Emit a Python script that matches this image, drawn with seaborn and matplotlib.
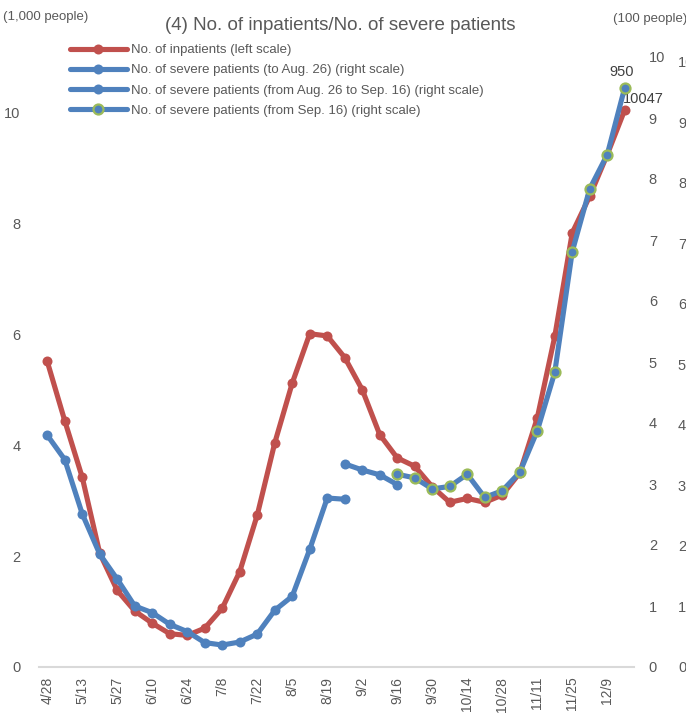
import matplotlib
matplotlib.use("Agg")
import matplotlib.pyplot as plt
import seaborn as sns
import pandas as pd
import numpy as np
from matplotlib.lines import Line2D

dates = ["4/28", "5/6", "5/13", "5/20", "5/27", "6/3", "6/10", "6/17", "6/24", "7/1",
         "7/8", "7/15", "7/22", "7/29", "8/5", "8/12", "8/19", "8/26", "9/2", "9/9",
         "9/16", "9/23", "9/30", "10/7", "10/14", "10/21", "10/28", "11/4", "11/11",
         "11/18", "11/25", "12/2", "12/9", "12/16"]

inpatients = [5.51, 4.44, 3.42, 2.05, 1.38, 1.01, 0.79, 0.60, 0.57, 0.70,
              1.06, 1.72, 2.74, 4.04, 5.12, 6.01, 5.97, 5.58, 5.00, 4.19,
              3.77, 3.62, 3.25, 2.97, 3.04, 2.97, 3.10, 3.50, 4.49, 5.96,
              7.83, 8.49, 9.24, 10.047]

severe_to_aug26 = [3.80, 3.40, 2.51, 1.85, 1.44, 1.00, 0.89, 0.70, 0.58, 0.40,
                   0.36, 0.41, 0.54, 0.93, 1.16, 1.93, 2.77, 2.75]
severe_aug26_sep16 = [3.33, 3.23, 3.15, 2.99]
severe_from_sep16 = [3.16, 3.10, 2.92, 2.96, 3.16, 2.78, 2.89, 3.19, 3.87, 4.83,
                     6.81, 7.84, 8.40, 9.50]

labels = ["No. of inpatients (left scale)",
          "No. of severe patients (to Aug. 26) (right scale)",
          "No. of severe patients (from Aug. 26 to Sep. 16) (right scale)",
          "No. of severe patients (from Sep. 16) (right scale)"]

RED = "#C0504D"
BLUE = "#4F81BD"
GREEN = "#9BBB59"
GREY = "#595959"

sns.set_theme(style="white")
plt.rcParams["font.family"] = ["Liberation Sans", "DejaVu Sans"]
NARROW = ["Liberation Sans Narrow", "Liberation Sans", "DejaVu Sans"]

fig = plt.figure(figsize=(6.86, 7.14), dpi=100)
W, H = 686, 714
ax = fig.add_axes([38.5 / W, (H - 667) / H, 595 / W, 610 / H])
ax2 = ax.twinx()
ax3 = ax.twinx()

n = len(dates)
idx = np.arange(n)
df_red = pd.DataFrame({"x": idx, "y": inpatients})
df_b1 = pd.DataFrame({"x": idx[:len(severe_to_aug26)], "y": severe_to_aug26})
df_b2 = pd.DataFrame({"x": idx[17:17 + len(severe_aug26_sep16)], "y": severe_aug26_sep16})
df_b3 = pd.DataFrame({"x": idx[20:20 + len(severe_from_sep16)], "y": severe_from_sep16})

lw = 3.7
ms = 7.2
sns.lineplot(data=df_red, x="x", y="y", ax=ax, color=RED, linewidth=lw,
             marker="o", markersize=ms, markeredgewidth=0, legend=False)
sns.lineplot(data=df_b1, x="x", y="y", ax=ax2, color=BLUE, linewidth=lw,
             marker="o", markersize=ms, markeredgewidth=0, legend=False)
sns.lineplot(data=df_b2, x="x", y="y", ax=ax2, color=BLUE, linewidth=lw,
             marker="o", markersize=ms, markeredgewidth=0, legend=False)
sns.lineplot(data=df_b3, x="x", y="y", ax=ax2, color=BLUE, linewidth=lw,
             marker="o", markersize=7.2, markeredgewidth=1.6,
             markeredgecolor=GREEN, markerfacecolor=BLUE, legend=False)

ax.set_xlim(-0.5, n - 0.5)
ax.set_ylim(0, 11)
ax2.set_ylim(0, 10)
ax3.set_ylim(0.08, 10.08)

ax.set_yticks(np.arange(0, 11, 2))
ax.set_yticklabels([str(v) for v in range(0, 11, 2)])
ax2.set_yticks(np.arange(0, 11, 1))
ax2.set_yticklabels([str(v) for v in range(0, 11)])
ax3.set_yticks(np.arange(0, 11, 1))
ax3.set_yticklabels([str(v) for v in range(0, 11)])

ax.set_xticks(idx[::2])
ax.set_xticklabels(dates[::2], rotation=90)

for a in (ax, ax2, ax3):
    for s in a.spines.values():
        s.set_visible(False)
    a.set_xlabel("")
    a.set_ylabel("")
ax.spines["bottom"].set_visible(True)
ax.spines["bottom"].set_color("#D9D9D9")
ax.spines["bottom"].set_linewidth(1.5)

ax.tick_params(axis="y", length=0, pad=13, labelsize=10.5, labelcolor=GREY)
ax.tick_params(axis="x", length=0, pad=7, labelsize=10, labelcolor=GREY)
ax2.tick_params(axis="y", length=0, pad=11, labelsize=10.5, labelcolor=GREY)
ax3.tick_params(axis="y", length=0, pad=32, labelsize=10.5, labelcolor=GREY)
ax.grid(False); ax2.grid(False); ax3.grid(False)

# data labels
ax2.annotate("950", (n - 1, severe_from_sep16[-1]), xytext=(-2, 6),
             textcoords="offset points", ha="center", va="bottom",
             fontsize=10.5, color="#404040")
ax.annotate("10047", (n - 1, inpatients[-1]), xytext=(-1, 3),
            textcoords="offset points", ha="left", va="bottom",
            fontsize=10.5, color="#404040")

# texts
fig.text(340 / W, 1 - 26 / H, "(4) No. of inpatients/No. of severe patients",
         ha="center", va="center", fontsize=13.5, color=GREY)
fig.text(3 / W, 1 - 17 / H, "(1,000 people)", ha="left", va="center",
         fontsize=9.5, color=GREY, family=NARROW)
fig.text(613 / W, 1 - 19 / H, "(100 people)", ha="left", va="center",
         fontsize=9.5, color=GREY, family=NARROW)

handles = [
    Line2D([], [], color=RED, linewidth=lw, marker="o", markersize=ms, markeredgewidth=0),
    Line2D([], [], color=BLUE, linewidth=lw, marker="o", markersize=ms, markeredgewidth=0),
    Line2D([], [], color=BLUE, linewidth=lw, marker="o", markersize=ms, markeredgewidth=0),
    Line2D([], [], color=BLUE, linewidth=lw, marker="o", markersize=7.2,
           markeredgewidth=1.6, markeredgecolor=GREEN, markerfacecolor=BLUE),
]
leg = fig.legend(handles, labels, loc="upper left",
                 bbox_to_anchor=(70 / W, 1 - 44 / H), frameon=False,
                 handlelength=4.3, handletextpad=0.3, labelspacing=0.6,
                 borderpad=0, borderaxespad=0,
                 prop={"family": NARROW, "size": 9.5})
for t in leg.get_texts():
    t.set_color(GREY)

fig.savefig("out.png", dpi=100)
